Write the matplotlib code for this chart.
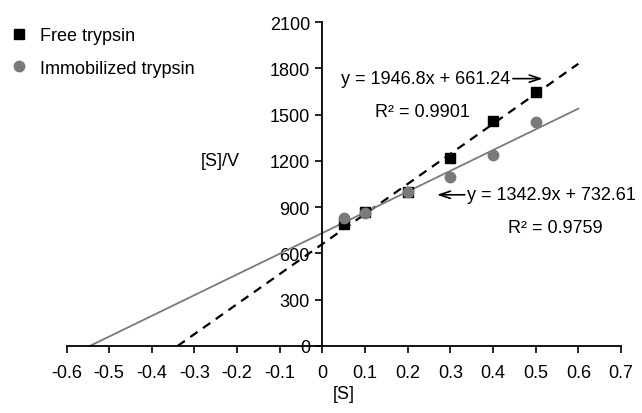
import numpy as np
import matplotlib
matplotlib.use("Agg")
import matplotlib.pyplot as plt

plt.rcParams["font.family"] = ["Liberation Sans", "DejaVu Sans"]
plt.rcParams["font.size"] = 13

# substrate concentrations and [S]/V values
s_conc = [0.05, 0.1, 0.2, 0.3, 0.4, 0.5]
free_sv = [791, 870, 1000, 1218, 1460, 1644]
immob_sv = [832, 862, 1000, 1093, 1238, 1454]

# linear fits printed on the chart
free_fit = (1946.8, 661.24, 0.9901)
immob_fit = (1342.9, 732.61, 0.9759)
fit_xmax = 0.6

xticks = [-0.6, -0.5, -0.4, -0.3, -0.2, -0.1, 0, 0.1, 0.2, 0.3, 0.4, 0.5, 0.6, 0.7]
yticks = [0, 300, 600, 900, 1200, 1500, 1800, 2100]

fig = plt.figure(figsize=(6.42, 4.14), dpi=100)
ax = fig.add_axes([66.5 / 642, 67 / 414, 554.5 / 642, 324 / 414])

for (m, b, r2), style, col, lw in [(free_fit, "--", "black", 1.6),
                                   (immob_fit, "-", "#7a7a7a", 1.3)]:
    xs = np.array([-b / m, fit_xmax])
    ax.plot(xs, m * xs + b, ls=style, color=col, lw=lw, dashes=(4, 3) if style == "--" else (None, None),
            zorder=2)

ax.plot(s_conc, free_sv, "s", color="black", ms=7, label="Free trypsin", zorder=3)
ax.plot(s_conc, immob_sv, "o", color="#7a7a7a", ms=7.5, label="Immobilized trypsin", zorder=3)

ax.set_xlim(-0.6, 0.7)
ax.set_ylim(0, 2100)
ax.spines["left"].set_position(("data", 0))
ax.spines["right"].set_visible(False)
ax.spines["top"].set_visible(False)
for sp in ("left", "bottom"):
    ax.spines[sp].set_linewidth(1.3)
ax.set_xticks(xticks)
ax.set_xticklabels(["0" if t == 0 else f"{t:g}" for t in xticks])
ax.set_yticks(yticks)
ax.tick_params(axis="both", direction="out", length=5, width=1.2, labelsize=13)
ax.tick_params(axis="x", pad=8)
ax.tick_params(axis="y", pad=4)

ax.set_xlabel("[S]", labelpad=3)
ax.set_ylabel("[S]/V", rotation=0, ha="right", va="center")
ax.yaxis.set_label_coords(0.313, 0.571)

# equation annotations
arrow = dict(arrowstyle="->,head_length=0.6,head_width=0.2", color="black", lw=1.2)
ax.annotate("", xy=(0.523, 1733), xytext=(0.44, 1733), arrowprops=arrow)
ax.text(0.44, 1733, f"y = {free_fit[0]}x + {free_fit[1]}", ha="right", va="center")
ax.text(0.345, 1520, f"R² = {free_fit[2]}", ha="right", va="center")
ax.annotate("", xy=(0.262, 980), xytext=(0.34, 980), arrowprops=arrow)
ax.text(0.34, 980, f"y = {immob_fit[0]}x + {immob_fit[1]}", ha="left", va="center")
ax.text(0.435, 770, f"R² = {immob_fit[2]}", ha="left", va="center")

ax.legend(loc="upper left", bbox_to_anchor=(-0.004, 0.958), bbox_transform=fig.transFigure,
          frameon=False, handletextpad=0.55, labelspacing=0.85, handlelength=1.2,
          borderaxespad=0.2)

fig.savefig("out.png", dpi=100)
